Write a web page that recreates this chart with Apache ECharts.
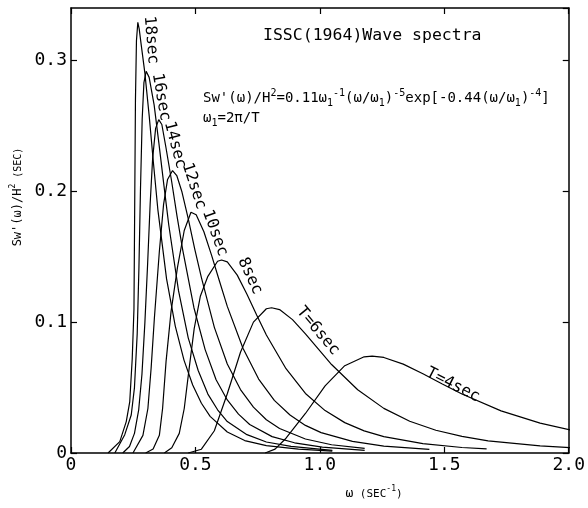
<!DOCTYPE html>
<html>
<head>
<meta charset="utf-8">
<script src="https://cdn.jsdelivr.net/npm/echarts@6/dist/echarts.min.js"></script>
<style>
html, body { margin: 0; padding: 0; background: #fff; }
#main { width: 588px; height: 508px; }
</style>
</head>
<body>
<div id="main"></div>
<script>
const w4 = [0.780, 0.820, 0.864, 0.942, 1.021, 1.100, 1.178, 1.210, 1.257, 1.335, 1.414, 1.492, 1.571, 1.728, 1.885, 2.042];
const s4 = [0.0000, 0.0030, 0.0113, 0.0302, 0.0513, 0.0667, 0.0735, 0.0740, 0.0730, 0.0679, 0.0606, 0.0527, 0.0451, 0.0322, 0.0228, 0.0162];

const w6 = [0.471, 0.524, 0.576, 0.628, 0.681, 0.733, 0.785, 0.806, 0.838, 0.890, 0.942, 0.995, 1.047, 1.152, 1.257, 1.361, 1.466, 1.571, 1.676, 1.885, 2.094];
const s6 = [0.0000, 0.0029, 0.0170, 0.0453, 0.0770, 0.1000, 0.1102, 0.1110, 0.1096, 0.1019, 0.0910, 0.0791, 0.0676, 0.0483, 0.0341, 0.0243, 0.0174, 0.0127, 0.0093, 0.0054, 0.0032];

const w8 = [0.375, 0.405, 0.435, 0.455, 0.475, 0.495, 0.520, 0.550, 0.589, 0.605, 0.628, 0.668, 0.707, 0.746, 0.785, 0.864, 0.942, 1.021, 1.100, 1.178, 1.257, 1.414, 1.571, 1.670];
const s8 = [0.0000, 0.0040, 0.0150, 0.0340, 0.0650, 0.0950, 0.1200, 0.1350, 0.1465, 0.1475, 0.1460, 0.1359, 0.1213, 0.1055, 0.0902, 0.0644, 0.0455, 0.0324, 0.0232, 0.0169, 0.0125, 0.0071, 0.0042, 0.0032];

const w10 = [0.300, 0.330, 0.355, 0.368, 0.382, 0.402, 0.428, 0.455, 0.482, 0.503, 0.534, 0.565, 0.597, 0.628, 0.691, 0.754, 0.817, 0.880, 0.942, 1.005, 1.131, 1.257, 1.440];
const s10 = [0.0000, 0.0030, 0.0135, 0.0340, 0.0700, 0.1080, 0.1420, 0.1700, 0.1840, 0.1820, 0.1690, 0.1510, 0.1310, 0.1120, 0.0800, 0.0565, 0.0402, 0.0290, 0.0211, 0.0156, 0.0089, 0.0053, 0.0027];

const w12 = [0.249, 0.289, 0.309, 0.322, 0.335, 0.355, 0.372, 0.388, 0.408, 0.425, 0.445, 0.471, 0.497, 0.524, 0.576, 0.628, 0.681, 0.733, 0.785, 0.838, 0.942, 1.047, 1.180];
const s12 = [0.0000, 0.0135, 0.0340, 0.0650, 0.1030, 0.1540, 0.1900, 0.2090, 0.2158, 0.2120, 0.2000, 0.1790, 0.1560, 0.1340, 0.0960, 0.0680, 0.0485, 0.0350, 0.0254, 0.0187, 0.0107, 0.0063, 0.0036];

const w14 = [0.208, 0.235, 0.255, 0.272, 0.285, 0.297, 0.308, 0.318, 0.328, 0.340, 0.3525, 0.365, 0.381, 0.404, 0.426, 0.449, 0.494, 0.539, 0.583, 0.628, 0.673, 0.718, 0.808, 0.898, 1.010, 1.180];
const s14 = [0.0000, 0.0050, 0.0150, 0.0330, 0.0600, 0.1000, 0.1450, 0.1900, 0.2250, 0.2480, 0.2547, 0.2510, 0.2340, 0.2080, 0.1810, 0.1550, 0.1110, 0.0790, 0.0560, 0.0405, 0.0297, 0.0218, 0.0125, 0.0078, 0.0045, 0.0020];

const w16 = [0.176, 0.216, 0.242, 0.255, 0.266, 0.273, 0.279, 0.286, 0.293, 0.302, 0.314, 0.334, 0.353, 0.373, 0.393, 0.432, 0.471, 0.511, 0.550, 0.589, 0.628, 0.707, 0.785, 0.884, 1.050];
const s16 = [0.0000, 0.0140, 0.0290, 0.0500, 0.0910, 0.1420, 0.2000, 0.2550, 0.2830, 0.2916, 0.2870, 0.2660, 0.2370, 0.2050, 0.1740, 0.1240, 0.0880, 0.0630, 0.0450, 0.0330, 0.0240, 0.0140, 0.0084, 0.0050, 0.0020];

const w18 = [0.149, 0.196, 0.222, 0.236, 0.246, 0.253, 0.256, 0.259, 0.263, 0.2685, 0.274, 0.282, 0.297, 0.314, 0.332, 0.349, 0.384, 0.419, 0.454, 0.489, 0.524, 0.559, 0.628, 0.698, 0.785, 0.914, 1.050];
const s18 = [0.0000, 0.0087, 0.0240, 0.0390, 0.0720, 0.1100, 0.1900, 0.2700, 0.3150, 0.3290, 0.3240, 0.3120, 0.2900, 0.2580, 0.2200, 0.1860, 0.1330, 0.0970, 0.0710, 0.0520, 0.0380, 0.0280, 0.0160, 0.0095, 0.0056, 0.0030, 0.0015];

const xTicks = [0, 0.5, 1.0, 1.5, 2.0];
const yTicks = [0, 0.1, 0.2, 0.3];

const curves = [
    { name: 'T=4sec', w: w4, s: s4 },
    { name: 'T=6sec', w: w6, s: s6 },
    { name: '8sec', w: w8, s: s8 },
    { name: '10sec', w: w10, s: s10 },
    { name: '12sec', w: w12, s: s12 },
    { name: '14sec', w: w14, s: s14 },
    { name: '16sec', w: w16, s: s16 },
    { name: '18sec', w: w18, s: s18 }
];

const MONO = '"DejaVu Sans Mono", monospace';

function tickText(v, list) {
    const hit = list.find(t => Math.abs(t - v) < 1e-6);
    if (hit === undefined) return '';
    return hit === 0 ? '0' : hit.toFixed(1);
}

const axisLine = { onZero: false, lineStyle: { color: '#000', width: 1.5 } };
const axisTick = { inside: true, length: 6, lineStyle: { color: '#000', width: 1.2 } };

// curve labels: [text, x, y, angle in degrees (clockwise)]
const curveLabels = [
    ['18sec', 151, 40, 85],
    ['16sec', 161, 97, 80],
    ['14sec', 175, 145, 75],
    ['12sec', 194, 186, 72],
    ['10sec', 215, 233, 70],
    ['8sec', 250, 276, 65],
    ['T=6sec', 318, 331, 50],
    ['T=4sec', 453, 385, 27]
];

const graphics = curveLabels.map(l => ({
    type: 'text',
    x: l[1],
    y: l[2],
    rotation: -l[3] * Math.PI / 180,
    style: {
        text: l[0],
        fill: '#000',
        font: '16px ' + MONO,
        align: 'center',
        verticalAlign: 'middle',
        textAlign: 'center',
        textVerticalAlign: 'middle'
    }
}));

graphics.push({
    type: 'text',
    x: 263,
    y: 27,
    style: { text: 'ISSC(1964)Wave spectra', fill: '#000', font: '16.5px ' + MONO }
});

const richFormula = {
    t: { fontSize: 14, fontFamily: MONO, lineHeight: 20, fill: '#000' },
    sup: { fontSize: 10, fontFamily: MONO, lineHeight: 11, verticalAlign: 'top', fill: '#000' },
    sub: { fontSize: 10, fontFamily: MONO, lineHeight: 11, verticalAlign: 'bottom', fill: '#000' }
};

graphics.push({
    type: 'text',
    x: 203,
    y: 88,
    style: {
        text: "{t|Sw'(ω)/H}{sup|2}{t|=0.11ω}{sub|1}{sup|-1}{t|(ω/ω}{sub|1}{t|)}{sup|-5}{t|exp[-0.44(ω/ω}{sub|1}{t|)}{sup|-4}{t|]}\n{t|ω}{sub|1}{t|=2π/T}",
        rich: richFormula
    }
});

// y axis name
graphics.push({
    type: 'text',
    x: 18,
    y: 197,
    rotation: Math.PI / 2,
    style: {
        text: "{t|Sw'(ω)/H}{sup|2}{s| (SEC)}",
        align: 'center',
        verticalAlign: 'middle',
        textAlign: 'center',
        textVerticalAlign: 'middle',
        rich: {
            t: { fontSize: 12, fontFamily: MONO, lineHeight: 18, fill: '#000' },
            sup: { fontSize: 8, fontFamily: MONO, lineHeight: 10, verticalAlign: 'top', fill: '#000' },
            s: { fontSize: 10, fontFamily: MONO, lineHeight: 18, fill: '#000' }
        }
    }
});

// x axis name
graphics.push({
    type: 'text',
    x: 374,
    y: 494,
    style: {
        text: '{w|ω}{s| (SEC}{sup|-1}{s|)}',
        align: 'center',
        verticalAlign: 'middle',
        textAlign: 'center',
        textVerticalAlign: 'middle',
        rich: {
            w: { fontSize: 13, fontFamily: MONO, lineHeight: 18, fill: '#000' },
            s: { fontSize: 11, fontFamily: MONO, lineHeight: 18, fill: '#000' },
            sup: { fontSize: 8, fontFamily: MONO, lineHeight: 10, verticalAlign: 'top', fill: '#000' }
        }
    }
});

const option = {
    animation: false,
    backgroundColor: '#fff',
    grid: { left: 71, right: 16, top: 8, bottom: 55 },
    xAxis: [
        {
            type: 'value',
            min: 0,
            max: 2,
            interval: 0.5,
            axisLine: axisLine,
            axisTick: axisTick,
            splitLine: { show: false },
            axisLabel: {
                color: '#000',
                fontSize: 18,
                fontFamily: MONO,
                margin: 3,
                formatter: v => tickText(v, xTicks)
            }
        },
        {
            type: 'value',
            position: 'top',
            min: 0,
            max: 2,
            interval: 0.5,
            axisLine: axisLine,
            axisTick: axisTick,
            splitLine: { show: false },
            axisLabel: { show: false }
        }
    ],
    yAxis: [
        {
            type: 'value',
            min: 0,
            max: 0.34,
            interval: 0.1,
            axisLine: axisLine,
            axisTick: axisTick,
            splitLine: { show: false },
            axisLabel: {
                color: '#000',
                fontSize: 18,
                fontFamily: MONO,
                margin: 4,
                showMaxLabel: false,
                formatter: v => tickText(v, yTicks)
            }
        },
        {
            type: 'value',
            position: 'right',
            min: 0,
            max: 0.34,
            interval: 0.1,
            axisLine: axisLine,
            axisTick: axisTick,
            splitLine: { show: false },
            axisLabel: { show: false }
        }
    ],
    series: curves.map(c => ({
        name: c.name,
        type: 'line',
        xAxisIndex: 0,
        yAxisIndex: 0,
        showSymbol: false,
        clip: true,
        lineStyle: { color: '#000', width: 1.2 },
        data: c.w.map((w, i) => [w, c.s[i]])
    })),
    graphic: graphics
};

const chart = echarts.init(document.getElementById('main'));
chart.setOption(option);
</script>
</body>
</html>
